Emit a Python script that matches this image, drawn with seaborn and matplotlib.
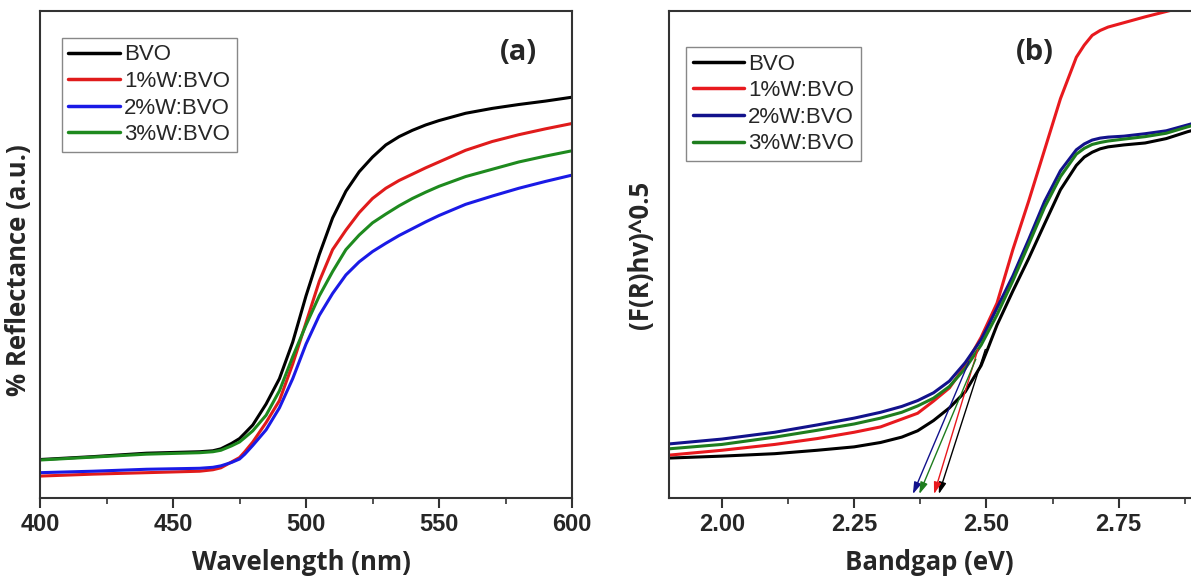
import pandas as pd
import matplotlib.pyplot as plt
import seaborn as sns
from matplotlib.ticker import MultipleLocator, FormatStrFormatter

# sample names shared by both panels
samples = ['BVO', '1%W:BVO', '2%W:BVO', '3%W:BVO']

# panel (a): diffuse reflectance (a.u., 0-100 = axis height)
wavelength = [400, 420, 440, 460, 465, 468, 472, 475, 477, 480, 485, 490, 495, 500, 505,
              510, 515, 520, 525, 530, 535, 540, 545, 550, 560, 570, 580, 590, 600]
refl_bvo = [7.9, 8.5, 9.2, 9.5, 9.7, 10.1, 11.2, 12.2, 13.3, 15.0, 19.3, 24.5, 32.0, 41.5, 50.0,
            57.5, 63.0, 67.0, 70.0, 72.5, 74.2, 75.5, 76.6, 77.5, 79.0, 80.0, 80.8, 81.5, 82.3]
refl_w1 = [4.5, 4.9, 5.2, 5.5, 5.8, 6.2, 7.4, 8.3, 9.5, 11.5, 15.5, 20.0, 27.5, 36.0, 44.5,
           51.0, 55.0, 58.6, 61.5, 63.6, 65.2, 66.5, 67.8, 69.0, 71.4, 73.2, 74.6, 75.8, 76.9]
refl_w2 = [5.2, 5.5, 5.9, 6.1, 6.3, 6.6, 7.3, 8.0, 9.0, 10.8, 14.0, 18.5, 24.5, 31.6, 37.5,
           42.0, 45.8, 48.5, 50.6, 52.3, 53.9, 55.3, 56.7, 58.0, 60.3, 62.0, 63.6, 65.0, 66.3]
refl_w3 = [7.8, 8.4, 9.0, 9.3, 9.5, 9.8, 10.7, 11.5, 12.4, 13.8, 17.0, 22.0, 29.0, 35.5, 41.5,
           46.5, 51.0, 54.0, 56.5, 58.3, 60.0, 61.5, 62.8, 64.0, 66.0, 67.5, 69.0, 70.2, 71.3]

# panel (b): Tauc plot (F(R)hv)^0.5
energy = [1.90, 2.00, 2.10, 2.18, 2.25, 2.30, 2.34, 2.37, 2.40, 2.43, 2.46, 2.49, 2.505, 2.52,
          2.55, 2.58, 2.61, 2.64, 2.67, 2.685, 2.70, 2.715, 2.73, 2.76, 2.80, 2.84, 2.88, 2.90]
tauc_bvo = [8.2, 8.6, 9.1, 9.8, 10.5, 11.4, 12.5, 13.8, 15.9, 18.5, 21.8, 27.2, 31.3, 35.5,
            42.5, 49.2, 56.3, 63.3, 68.3, 70.0, 71.0, 71.7, 72.1, 72.5, 72.9, 73.8, 75.2, 75.8]
tauc_w1 = [8.8, 9.8, 11.0, 12.2, 13.5, 14.6, 16.2, 17.4, 19.9, 22.6, 27.2, 33.0, 36.5, 40.0,
           51.0, 61.0, 71.5, 82.0, 90.5, 93.0, 95.0, 96.0, 96.7, 97.6, 98.8, 99.9, 101.0, 101.5]
tauc_w2 = [11.1, 12.1, 13.5, 15.0, 16.4, 17.6, 18.8, 20.0, 21.6, 24.0, 27.8, 32.5, 35.7, 39.0,
           45.6, 53.1, 60.9, 67.2, 71.5, 72.7, 73.5, 73.9, 74.1, 74.3, 74.8, 75.4, 76.6, 77.2]
tauc_w3 = [10.1, 11.0, 12.5, 13.9, 15.2, 16.4, 17.6, 18.9, 20.5, 22.9, 26.6, 31.4, 34.5, 37.6,
           44.6, 52.1, 59.7, 66.0, 70.6, 71.8, 72.6, 73.0, 73.3, 73.7, 74.2, 74.9, 76.2, 76.8]

# tangent (band gap) arrows: start point on the curve, end on the energy axis
arrow_start_e = [2.498, 2.484, 2.467, 2.480]
arrow_start_y = [30.5, 30.5, 28.0, 28.5]
arrow_end_e = [2.410, 2.401, 2.361, 2.373]

colors_a = ['#000000', '#e01b1b', '#1a1ae6', '#1e8a1e']
colors_b = ['#000000', '#e8191e', '#12128c', '#1e7d1e']

df_a = pd.concat([pd.DataFrame({'x': wavelength, 'y': vals, 'sample': s})
                  for s, vals in zip(samples, [refl_bvo, refl_w1, refl_w2, refl_w3])])
df_b = pd.concat([pd.DataFrame({'x': energy, 'y': vals, 'sample': s})
                  for s, vals in zip(samples, [tauc_bvo, tauc_w1, tauc_w2, tauc_w3])])

sns.set_style('white')
plt.rcParams['font.family'] = ['Liberation Sans', 'DejaVu Sans']
plt.rcParams['font.weight'] = 'bold'

fig = plt.figure(figsize=(11.91, 5.79), dpi=100)
ax1 = fig.add_axes([40 / 1191, 81 / 579, 532 / 1191, 487 / 579])
ax2 = fig.add_axes([669 / 1191, 81 / 579, 529 / 1191, 487 / 579])

sns.lineplot(data=df_a, x='x', y='y', hue='sample', palette=colors_a, linewidth=2.2,
             ax=ax1, estimator=None, sort=False)
sns.lineplot(data=df_b, x='x', y='y', hue='sample', palette=colors_b, linewidth=2.2,
             ax=ax2, estimator=None, sort=False)

for s, x0, y0, x1, c in zip(samples, arrow_start_e, arrow_start_y, arrow_end_e, colors_b):
    ax2.annotate('', xy=(x1, 0.8), xytext=(x0, y0),
                 arrowprops=dict(arrowstyle='-|>,head_length=0.7,head_width=0.22',
                                 color=c, lw=1.0, shrinkA=0, shrinkB=0))

label_font = dict(family='Open Sans', weight='bold', size=18.5)

ax1.set_xlim(400, 600)
ax1.set_ylim(0, 100)
ax1.xaxis.set_major_locator(MultipleLocator(50))
ax1.xaxis.set_minor_locator(MultipleLocator(25))
ax1.set_xlabel('Wavelength (nm)', **label_font)
ax1.set_ylabel('% Reflectance (a.u.)', **label_font)
ax1.xaxis.set_label_coords(0.492, -0.133)
ax1.yaxis.set_label_coords(-0.041, 0.468)
ax1.text(0.90, 0.914, '(a)', transform=ax1.transAxes, ha='center', va='center',
         family='Open Sans', weight='bold', size=21)

ax2.set_xlim(1.9, 2.9)
ax2.set_ylim(0, 100)
ax2.xaxis.set_major_locator(MultipleLocator(0.25))
ax2.xaxis.set_minor_locator(MultipleLocator(0.125))
ax2.xaxis.set_major_formatter(FormatStrFormatter('%.2f'))
ax2.set_xlabel('Bandgap (eV)', **label_font)
ax2.set_ylabel('(F(R)hv)^0.5', **label_font)
ax2.xaxis.set_label_coords(0.493, -0.133)
ax2.yaxis.set_label_coords(-0.053, 0.499)
ax2.text(0.692, 0.914, '(b)', transform=ax2.transAxes, ha='center', va='center',
         family='Open Sans', weight='bold', size=21)

for ax, lx, ly in [(ax1, 0.041, 0.945), (ax2, 0.032, 0.926)]:
    ax.xaxis.label.set_verticalalignment('center')
    ax.yaxis.label.set_verticalalignment('center')
    ax.set_yticks([])
    for sp in ax.spines.values():
        sp.set_color('#333333')
        sp.set_linewidth(1.5)
    ax.tick_params(axis='x', which='major', direction='out', length=7, width=1.5,
                   color='#333333', labelsize=17, pad=4, bottom=True)
    ax.tick_params(axis='x', which='minor', direction='out', length=4, width=1.2,
                   color='#333333', bottom=True)
    sns.move_legend(ax, 'upper left', bbox_to_anchor=(lx, ly), title=None, frameon=True,
                    prop={'size': 16, 'weight': 'normal'}, borderpad=0.3,
                    labelspacing=0.25, handlelength=2.3, handletextpad=0.2,
                    borderaxespad=0, fancybox=False, framealpha=1, edgecolor='#888888')
    for h in ax.get_legend().legend_handles:
        h.set_linewidth(2.5)

fig.savefig('out.png', dpi=100)
